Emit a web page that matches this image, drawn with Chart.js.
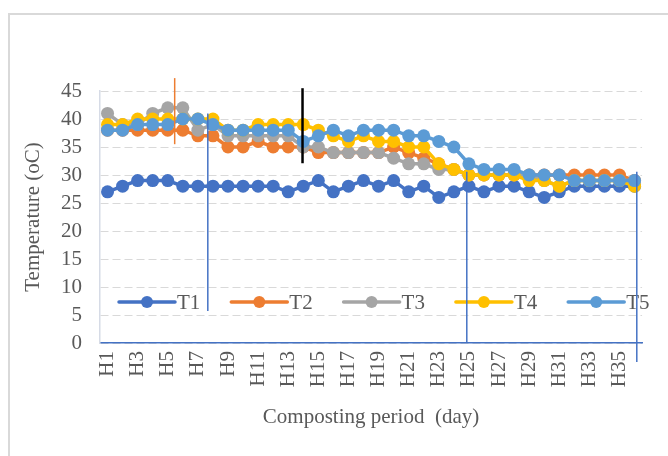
<!DOCTYPE html>
<html>
<head>
<meta charset="utf-8">
<script src="https://cdn.jsdelivr.net/npm/chart.js@4.4.0/dist/chart.umd.min.js"></script>
<style>
  html, body { margin: 0; padding: 0; background: #fff; overflow: hidden; }
  #wrap { position: relative; width: 668px; height: 456px; }
  #frame { position: absolute; left: 8px; top: 13px; width: 720px; height: 520px;
           border-left: 2px solid #d9d9d9; border-top: 2px solid #d9d9d9; pointer-events: none; }
  canvas { position: absolute; left: 0; top: 0; }
</style>
</head>
<body>
<div id="wrap">
  <div id="frame"></div>
  <canvas id="chart" width="668" height="456"></canvas>
</div>
<script>
// Composting days
const days = ['H1','H2','H3','H4','H5','H6','H7','H8','H9','H10','H11','H12',
              'H13','H14','H15','H16','H17','H18','H19','H20','H21','H22','H23','H24',
              'H25','H26','H27','H28','H29','H30','H31','H32','H33','H34','H35','H36'];

// Pile temperatures (oC) for each treatment
const t1 = [27,28,29,29,29,28,28,28,28,28,28,28,27,28,29,27,28,29,28,29,27,28,26,27,28,27,28,28,27,26,27,28,28,28,28,28];
const t2 = [38,38,38,38,38,38,37,37,35,35,36,35,35,35,34,34,34,34,34,35,34,33,32,31,30,30,30,30,30,30,30,30,30,30,30,29];
const t3 = [41,39,39,41,42,42,38,39,37,37,37,37,37,35,35,34,34,34,34,33,32,32,31,31,30,30,30,30,30,29,28,29,29,29,29,29];
const t4 = [39,39,40,40,40,40,40,40,38,38,39,39,39,39,38,37,36,37,36,36,35,35,32,31,30,30,30,30,29,29,28,29,29,29,29,28];
const t5 = [38,38,39,39,39,40,40,39,38,38,38,38,38,36,37,38,37,38,38,38,37,37,36,35,32,31,31,31,30,30,30,29,29,29,29,29];

const seriesNames = ['T1','T2','T3','T4','T5'];
const seriesValues = [t1, t2, t3, t4, t5];

// Y axis ticks
const yTicks = [0,5,10,15,20,25,30,35,40,45];

// Vertical guide marks: position on the day axis and temperature span
const guideAt     = [4.46, 12.95, 6.66, 23.86, 35.15];
const guideTop    = [47.3, 45.5, 41.0, 30.6, 30.6];
const guideBottom = [35.5, 32.1, 5.7, 0.0, -3.4];

const palette = ['#4472C4', '#ED7D31', '#A5A5A5', '#FFC000', '#5B9BD5'];
const guideColors = ['#ED7D31', '#000000', '#4472C4', '#4472C4', '#4472C4'];
const guideWidths = [1.5, 2.5, 1.5, 1.5, 1.5];

const FONT = "'Liberation Serif', 'Times New Roman', serif";
const TEXT = '#595959';

// Legend drawn inside the plot area, one row
const insideLegend = {
  id: 'insideLegend',
  afterDatasetsDraw(chart) {
    const { ctx, chartArea: a } = chart;
    const cy = a.bottom - 41;
    ctx.save();
    ctx.font = '21px ' + FONT;
    ctx.textBaseline = 'middle';
    ctx.textAlign = 'left';
    chart.data.datasets.forEach((ds, i) => {
      const x0 = a.left + 19 + i * 112.3;
      ctx.strokeStyle = ds.borderColor;
      ctx.lineWidth = 3.5;
      ctx.lineCap = 'round';
      ctx.beginPath();
      ctx.moveTo(x0, cy);
      ctx.lineTo(x0 + 56, cy);
      ctx.stroke();
      ctx.fillStyle = ds.borderColor;
      ctx.beginPath();
      ctx.arc(x0 + 28, cy, 6, 0, Math.PI * 2);
      ctx.fill();
      ctx.fillStyle = TEXT;
      ctx.fillText(ds.label, x0 + 58, cy + 1);
    });
    ctx.restore();
  }
};

// Thin vertical marks placed through the scales
const guides = {
  id: 'guides',
  afterDatasetsDraw(chart) {
    const { ctx, scales: { x, y } } = chart;
    ctx.save();
    guideAt.forEach((pos, i) => {
      const px = x.getPixelForValue(pos);
      ctx.strokeStyle = guideColors[i];
      ctx.lineWidth = guideWidths[i];
      ctx.beginPath();
      ctx.moveTo(px, y.getPixelForValue(guideTop[i]));
      ctx.lineTo(px, y.getPixelForValue(guideBottom[i]));
      ctx.stroke();
    });
    ctx.restore();
  }
};

new Chart(document.getElementById('chart'), {
  type: 'line',
  data: {
    labels: days,
    datasets: seriesValues.map((vals, i) => ({
      label: seriesNames[i],
      data: vals,
      borderColor: palette[i],
      backgroundColor: palette[i],
      pointBackgroundColor: palette[i],
      pointBorderWidth: 0,
      pointRadius: 6.5,
      borderWidth: 3.5,
      tension: 0,
      order: seriesNames.length - i
    }))
  },
  options: {
    responsive: false,
    animation: false,
    events: [],
    layout: { padding: { top: 91, right: 19, bottom: 0, left: 0 } },
    plugins: {
      legend: { display: false },
      tooltip: { enabled: false },
      title: { display: false }
    },
    scales: {
      x: {
        offset: true,
        grid: { display: false, drawTicks: false },
        border: { display: true, color: '#4472C4', width: 1.5 },
        ticks: {
          autoSkip: false,
          maxRotation: 90,
          minRotation: 90,
          padding: 8,
          color: TEXT,
          font: { family: FONT, size: 21 },
          callback: function (v, idx) { return idx % 2 === 0 ? this.getLabelForValue(v) : ''; }
        },
        title: {
          display: true,
          text: 'Composting period  (day)',
          color: TEXT,
          font: { family: FONT, size: 21 },
          padding: { top: 0, bottom: 26 }
        },
        afterFit(scale) { scale.height = 113; }
      },
      y: {
        min: 0,
        max: 45,
        afterBuildTicks(scale) { scale.ticks = yTicks.map(v => ({ value: v })); },
        grid: { color: '#d9d9d9', lineWidth: 1, drawTicks: false },
        border: { display: true, color: '#d6dbe6', width: 1.5, dash: [8, 4] },
        ticks: {
          autoSkip: false,
          padding: 18,
          color: TEXT,
          font: { family: FONT, size: 21 }
        },
        title: {
          display: true,
          text: 'Temperature (oC)',
          color: TEXT,
          font: { family: FONT, size: 21 },
          padding: { top: 21, bottom: 0 }
        },
        afterFit(scale) { scale.width = 100; }
      }
    }
  },
  plugins: [insideLegend, guides]
});
</script>
</body>
</html>
